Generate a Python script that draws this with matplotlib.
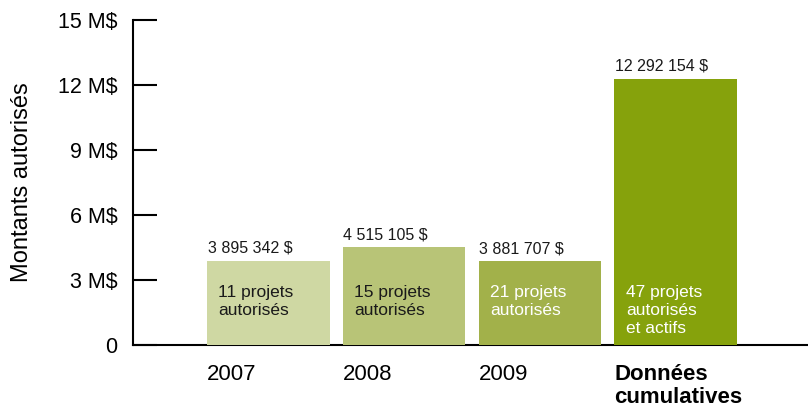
import matplotlib.pyplot as plt

plt.rcParams['font.family'] = ['Liberation Sans', 'DejaVu Sans']

# données du graphique
categories = ['2007', '2008', '2009', 'Données\ncumulatives']
montants = [3.895342, 4.515105, 3.881707, 12.292154]  # en M$
montant_labels = ['3 895 342 $', '4 515 105 $', '3 881 707 $', '12 292 154 $']
projets_labels = ['11 projets\nautorisés', '15 projets\nautorisés', '21 projets\nautorisés',
                  '47 projets\nautorisés\net actifs']
y_ticks = [0, 3, 6, 9, 12, 15]
y_tick_labels = ['0', '3 M$', '6 M$', '9 M$', '12 M$', '15 M$']

colors = ['#cfd8a3', '#b8c477', '#a2b14a', '#86a20c']
text_colors = ['#1a1a1a', '#1a1a1a', 'white', 'white']
width = 0.904

fig = plt.figure(figsize=(8.08, 4.11), dpi=100)
ax = fig.add_axes([133 / 808, 66 / 411, 675 / 808, 325 / 411])

x = list(range(len(categories)))
ax.bar(x, montants, width=width, color=colors, zorder=3)

for i, v in enumerate(montants):
    left = x[i] - width / 2
    ax.text(left + 0.005, v + 0.22, montant_labels[i], ha='left', va='bottom', fontsize=11.5, color='#1a1a1a')
    ax.text(left + 0.085, 2.75, projets_labels[i], ha='left', va='top', fontsize=12.5,
            color=text_colors[i], linespacing=1.25, zorder=4)

ax.set_xlim(-0.996, 3.974)
ax.set_ylim(0, 15)

ax.set_yticks(y_ticks)
ax.set_yticklabels(y_tick_labels, fontsize=15.5)
ax.tick_params(axis='y', direction='in', length=17, width=1.5, pad=11)

ax.set_xticks([xi - width / 2 for xi in x])
ax.set_xticklabels(categories, fontsize=16, ha='left', va='top', linespacing=1.1)
ax.tick_params(axis='x', length=0, pad=14)
ax.get_xticklabels()[-1].set_fontweight('bold')

ax.spines['top'].set_visible(False)
ax.spines['right'].set_visible(False)
ax.spines['left'].set_linewidth(1.5)
ax.spines['bottom'].set_linewidth(1.5)

ax.set_ylabel('Montants autorisés', fontsize=17)
ax.yaxis.set_label_coords(-100 / 675, 0.5)

plt.savefig('out.png', dpi=100)
